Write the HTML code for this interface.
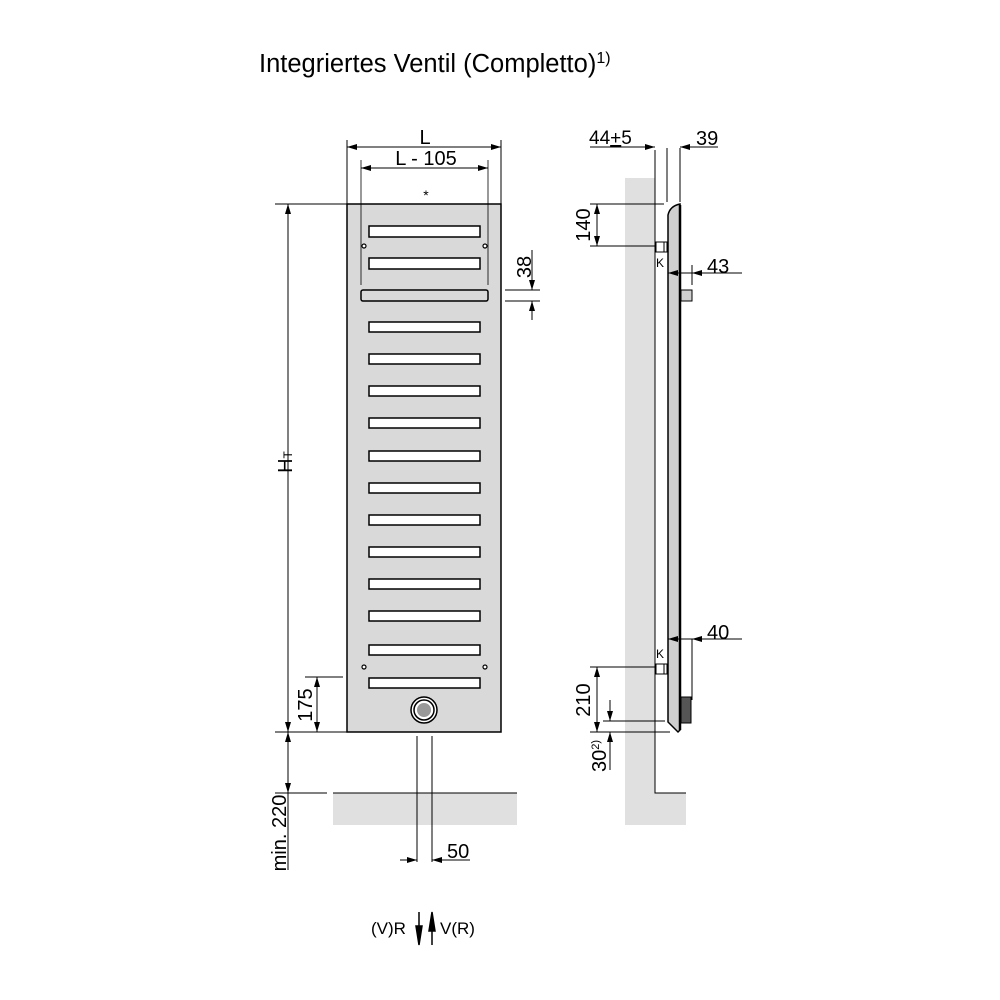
<!DOCTYPE html>
<html><head><meta charset="utf-8"><style>body{margin:0;background:#fff}svg{display:block}text{font-family:"Liberation Sans",sans-serif;fill:#000}</style></head><body>
<svg width="1000" height="1000" viewBox="0 0 1000 1000" xmlns="http://www.w3.org/2000/svg">
<defs>
<marker id="a" viewBox="0 0 10 6" refX="10" refY="3" markerWidth="10" markerHeight="6" orient="auto-start-reverse" markerUnits="userSpaceOnUse"><path d="M0,0L10,3L0,6z" fill="#000"/></marker>
</defs>
<text x="259" y="72" font-size="25.5">Integriertes Ventil (Completto)<tspan font-size="16" dy="-9">1)</tspan></text>

<g stroke="#000" stroke-width="1" fill="none">
<rect x="333" y="793" width="184" height="32" fill="#e0e0e0" stroke="none"/>
<line x1="333" y1="793" x2="517" y2="793"/>
<line x1="275" y1="793" x2="327" y2="793"/>
<rect x="347" y="204" width="154" height="528" fill="#d9d9d9" stroke-width="1.5"/>
<line x1="347" y1="140" x2="347" y2="215"/><line x1="501" y1="140" x2="501" y2="215"/>
<line x1="347" y1="147" x2="501" y2="147" marker-start="url(#a)" marker-end="url(#a)"/>
<line x1="361" y1="160" x2="361" y2="285" stroke-width="0.8"/><line x1="488" y1="160" x2="488" y2="285" stroke-width="0.8"/>
<line x1="361" y1="168" x2="488" y2="168" marker-start="url(#a)" marker-end="url(#a)"/>
<g fill="#fff" stroke-width="1.5">
<rect x="369" y="226" width="111" height="11"/><rect x="369" y="258" width="111" height="11"/>
<rect x="361" y="290" width="127" height="11" rx="2" fill="#d9d9d9"/>
<rect x="369" y="322" width="111" height="10"/><rect x="369" y="354" width="111" height="10"/>
<rect x="369" y="386" width="111" height="10"/><rect x="369" y="418" width="111" height="10"/>
<rect x="369" y="451" width="111" height="10"/><rect x="369" y="483" width="111" height="10"/>
<rect x="369" y="515" width="111" height="10"/><rect x="369" y="547" width="111" height="10"/>
<rect x="369" y="579" width="111" height="10"/><rect x="369" y="611" width="111" height="10"/>
<rect x="369" y="645" width="111" height="10"/><rect x="369" y="678" width="111" height="10"/>
</g>
<g fill="#fff" stroke-width="1.2"><circle cx="364" cy="246" r="2"/><circle cx="485" cy="246" r="2"/><circle cx="364" cy="667" r="2"/><circle cx="485" cy="667" r="2"/></g>
<circle cx="424" cy="710" r="13" fill="#fff" stroke-width="1.5"/><circle cx="424" cy="710" r="10" stroke-width="1.5"/><circle cx="424" cy="710" r="7" fill="#999" stroke="none"/>
<line x1="275" y1="204" x2="347" y2="204"/><line x1="275" y1="732" x2="347" y2="732"/>
<line x1="288" y1="204" x2="288" y2="732" marker-start="url(#a)" marker-end="url(#a)"/>
<line x1="305" y1="677" x2="343" y2="677"/>
<line x1="317" y1="677" x2="317" y2="732" marker-start="url(#a)" marker-end="url(#a)"/>
<line x1="288" y1="732" x2="288" y2="793" marker-start="url(#a)" marker-end="url(#a)"/>
<line x1="288" y1="793" x2="288" y2="870"/>
<line x1="417" y1="736" x2="417" y2="862"/><line x1="432" y1="736" x2="432" y2="862"/>
<line x1="400" y1="860" x2="417" y2="860" marker-end="url(#a)"/>
<line x1="470" y1="860" x2="432" y2="860" marker-end="url(#a)"/>
<line x1="505" y1="290" x2="540" y2="290"/><line x1="505" y1="301" x2="540" y2="301"/>
<line x1="532" y1="250" x2="532" y2="290" marker-end="url(#a)"/>
<line x1="532" y1="320" x2="532" y2="301" marker-end="url(#a)"/>
</g>
<text x="426" y="200" font-size="14" text-anchor="middle">*</text>
<text x="425" y="144" font-size="20" text-anchor="middle">L</text>
<text x="426" y="165" font-size="20" text-anchor="middle">L - 105</text>
<text font-size="20" transform="translate(292,462) rotate(-90)" text-anchor="middle">H<tspan font-size="12">T</tspan></text>
<text font-size="20" transform="translate(312,705) rotate(-90)" text-anchor="middle">175</text>
<text font-size="20" transform="translate(286,833) rotate(-90)" text-anchor="middle">min. 220</text>
<text font-size="20" transform="translate(531,267) rotate(-90)" text-anchor="middle">38</text>
<text x="447" y="858" font-size="20">50</text>
<text x="371" y="934" font-size="17">(V)R</text>
<text x="440" y="934" font-size="17">V(R)</text>
<g stroke="#000" stroke-width="1.5">
<line x1="419" y1="912" x2="419" y2="930"/><path d="M416,926L422,926L419,945z" fill="#000"/>
<line x1="432" y1="927" x2="432" y2="945"/><path d="M429,931L435,931L432,912z" fill="#000"/>
</g>

<g stroke="#000" stroke-width="1" fill="none">
<rect x="625" y="178" width="30" height="647" fill="#e0e0e0" stroke="none"/>
<rect x="655" y="793" width="31" height="32" fill="#e0e0e0" stroke="none"/>
<polyline points="655,150 655,793 686,793"/>
<line x1="667" y1="148" x2="667" y2="202"/><line x1="680" y1="148" x2="680" y2="202"/>
<line x1="590" y1="147" x2="655" y2="147" marker-end="url(#a)"/>
<line x1="718" y1="147" x2="680" y2="147" marker-end="url(#a)"/>
<path d="M668,215 Q670,206 680,204 L680,730 L678,732 L668,722 Z" fill="#cfcfcf" stroke-width="1.5"/>
<line x1="680" y1="205" x2="680" y2="730" stroke-width="2.5"/>
<rect x="656" y="242" width="11" height="10" fill="#fff"/><line x1="664" y1="242" x2="664" y2="252"/>
<rect x="656" y="664" width="11" height="10" fill="#fff"/><line x1="664" y1="664" x2="664" y2="674"/>
<rect x="681" y="290" width="11" height="11" fill="#cfcfcf"/>
<rect x="681" y="697" width="10" height="26" fill="#555"/>
<line x1="692" y1="265" x2="692" y2="285"/>
<line x1="692" y1="273" x2="668" y2="273" marker-end="url(#a)"/>
<line x1="730" y1="273" x2="692" y2="273" marker-end="url(#a)"/><line x1="730" y1="273" x2="742" y2="273"/>
<line x1="692" y1="639" x2="692" y2="700"/>
<line x1="692" y1="639" x2="668" y2="639" marker-end="url(#a)"/>
<line x1="730" y1="639" x2="692" y2="639" marker-end="url(#a)"/><line x1="730" y1="639" x2="742" y2="639"/>
<line x1="590" y1="204" x2="664" y2="204"/><line x1="590" y1="246" x2="655" y2="246"/>
<line x1="597" y1="204" x2="597" y2="246" marker-start="url(#a)" marker-end="url(#a)"/>
<line x1="590" y1="667" x2="655" y2="667"/><line x1="590" y1="732" x2="670" y2="732"/>
<line x1="597" y1="667" x2="597" y2="732" marker-start="url(#a)" marker-end="url(#a)"/>
<line x1="603" y1="721" x2="665" y2="721"/>
<line x1="610" y1="700" x2="610" y2="721" marker-end="url(#a)"/>
<line x1="610" y1="770" x2="610" y2="732" marker-end="url(#a)"/>
</g>
<text x="589" y="144" font-size="19">44<tspan text-decoration="underline">+</tspan>5</text>
<text x="696" y="145" font-size="20">39</text>
<text x="707" y="273" font-size="20">43</text>
<text x="707" y="639" font-size="20">40</text>
<text x="656" y="267" font-size="12">K</text>
<text x="656" y="658" font-size="12">K</text>
<text font-size="20" transform="translate(590,225) rotate(-90)" text-anchor="middle">140</text>
<text font-size="20" transform="translate(590,700) rotate(-90)" text-anchor="middle">210</text>
<text font-size="20" transform="translate(606,772) rotate(-90)">30<tspan font-size="11" dy="-7">2)</tspan></text>
</svg>
</body></html>
